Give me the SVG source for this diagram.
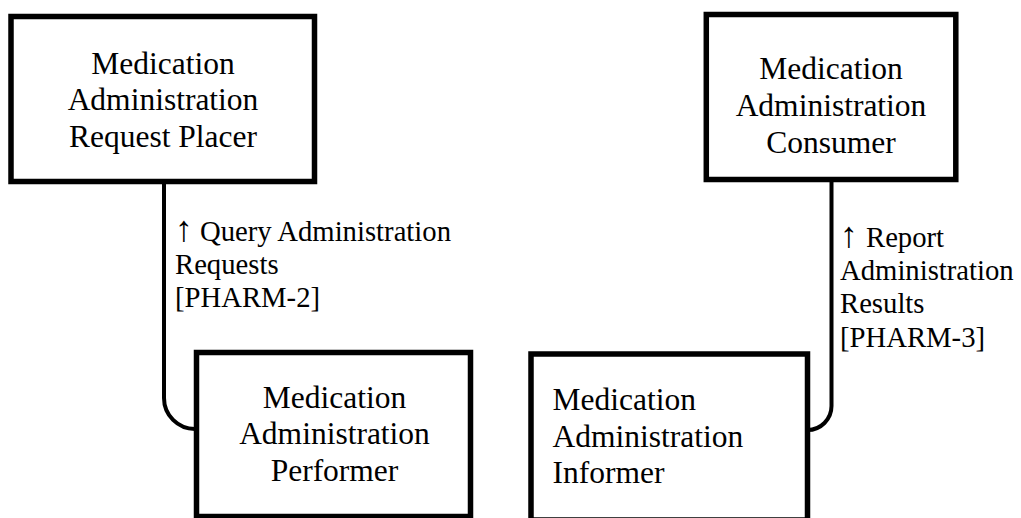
<svg xmlns="http://www.w3.org/2000/svg" width="1021" height="518" viewBox="0 0 1021 518">
<style>
.box{fill:#fff;stroke:#000;stroke-width:5.5}
.conn{fill:none;stroke:#000;stroke-width:4}
.nt{font-family:"Liberation Serif","Times New Roman",serif;font-size:31.5px;fill:#000}
.lt{font-family:"Liberation Serif","Times New Roman",serif;font-size:28.7px;fill:#000}
.arr{font-size:36px}
</style>
<rect width="1021" height="518" fill="#fff"/>
<g id="connectors">
<path class="conn" d="M164,181 V398 A31,31 0 0 0 195,429"/>
<path class="conn" d="M831.5,178 V406 A24,24 0 0 1 807.5,430"/>
</g>
<g id="node-placer">
<rect class="box" x="11" y="16.5" width="303.5" height="165"/>
<text class="nt" text-anchor="middle"><tspan x="163" y="74">Medication</tspan><tspan x="163" y="110.3">Administration</tspan><tspan x="163" y="146.6">Request Placer</tspan></text>
</g>
<g id="node-consumer">
<rect class="box" x="706.3" y="14.5" width="249.5" height="165"/>
<text class="nt" text-anchor="middle"><tspan x="831" y="79">Medication</tspan><tspan x="831" y="116">Administration</tspan><tspan x="831" y="153">Consumer</tspan></text>
</g>
<g id="node-performer">
<rect class="box" x="196.5" y="352.5" width="274" height="164"/>
<text class="nt" text-anchor="middle"><tspan x="334.5" y="407.5">Medication</tspan><tspan x="334.5" y="444">Administration</tspan><tspan x="334.5" y="480.5">Performer</tspan></text>
</g>
<g id="node-informer">
<rect class="box" x="531" y="354" width="276.5" height="166"/>
<text class="nt"><tspan x="552.5" y="410">Medication</tspan><tspan x="552.5" y="446.7">Administration</tspan><tspan x="552.5" y="483.3">Informer</tspan></text>
</g>
<g id="label-query">
<text class="lt"><tspan x="175" y="241" class="arr">↑</tspan><tspan x="200" y="241">Query Administration</tspan><tspan x="175" y="274">Requests</tspan><tspan x="175" y="307">[PHARM-2]</tspan></text>
</g>
<g id="label-report">
<text class="lt"><tspan x="840" y="246.7" class="arr">↑</tspan><tspan x="866" y="246.7">Report</tspan><tspan x="840" y="280">Administration</tspan><tspan x="840" y="313.3">Results</tspan><tspan x="840" y="346.6">[PHARM-3]</tspan></text>
</g>
</svg>
